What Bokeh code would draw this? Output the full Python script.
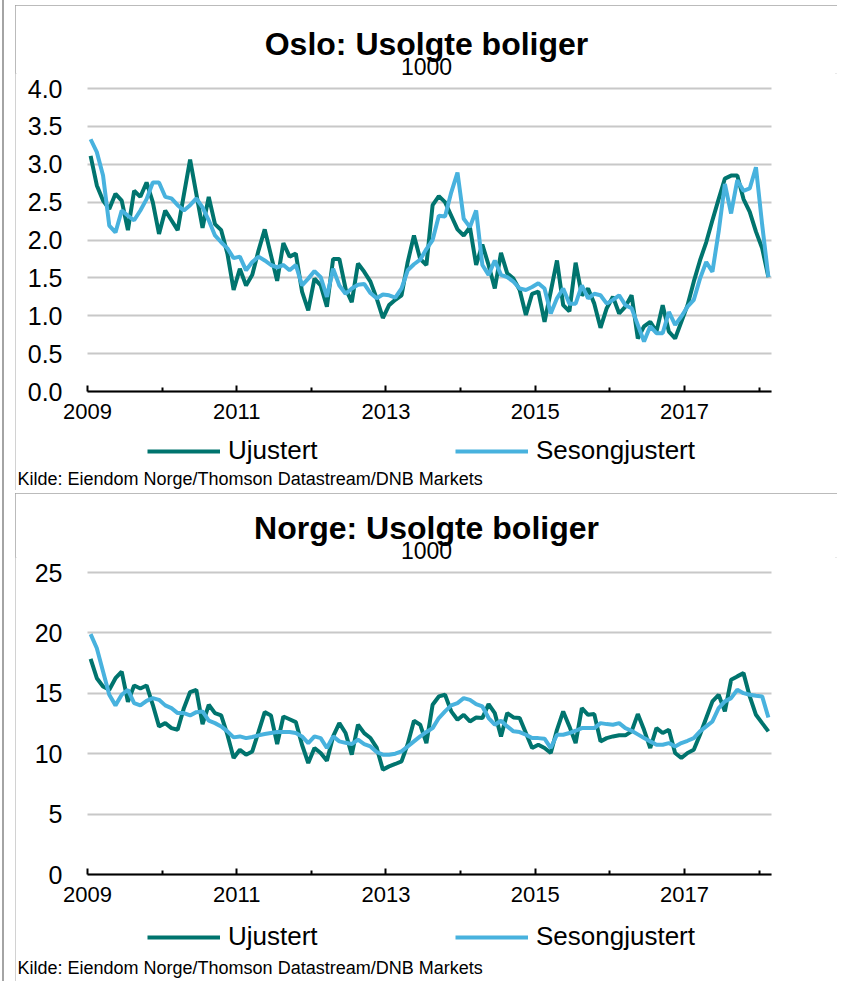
import pandas as pd
from bokeh.plotting import figure
from bokeh.models import (Range1d, FixedTicker, Legend, LegendItem, Title, Label, Grid,
                          PrintfTickFormatter, InlineStyleSheet)
from bokeh.layouts import column
from bokeh.embed import file_html
from bokeh.resources import INLINE

# ---------------- data ----------------
months = pd.date_range("2009-01-01", periods=110, freq="MS")
x_years = [d.year + (d.month - 0.5) / 12 for d in months]

oslo_ujustert = [
    3.11, 2.72, 2.52, 2.41, 2.61, 2.52, 2.13, 2.65, 2.57, 2.76,
    2.50, 2.08, 2.39, 2.26, 2.13, 2.60, 3.06, 2.61, 2.16, 2.57,
    2.21, 2.13, 1.82, 1.34, 1.62, 1.40, 1.54, 1.86, 2.14, 1.80,
    1.46, 1.96, 1.78, 1.82, 1.32, 1.07, 1.49, 1.40, 1.12, 1.75,
    1.75, 1.36, 1.18, 1.69, 1.58, 1.45, 1.23, 0.97, 1.14, 1.21,
    1.27, 1.71, 2.06, 1.75, 1.67, 2.46, 2.58, 2.50, 2.32, 2.14,
    2.06, 2.17, 1.67, 1.94, 1.67, 1.36, 1.83, 1.56, 1.49, 1.34,
    1.01, 1.29, 1.32, 0.92, 1.32, 1.73, 1.14, 1.06, 1.70, 1.27,
    1.36, 1.16, 0.84, 1.10, 1.25, 1.03, 1.12, 1.27, 0.70, 0.86,
    0.92, 0.79, 1.14, 0.79, 0.70, 0.92, 1.14, 1.45, 1.73, 1.97,
    2.26, 2.54, 2.81, 2.85, 2.85, 2.54, 2.37, 2.11, 1.89, 1.51,
]
oslo_sesong = [
    3.33, 3.16, 2.85, 2.19, 2.10, 2.39, 2.32, 2.26, 2.39, 2.54,
    2.76, 2.76, 2.57, 2.55, 2.46, 2.39, 2.46, 2.55, 2.43, 2.26,
    2.06, 1.97, 1.89, 1.76, 1.78, 1.60, 1.71, 1.78, 1.73, 1.67,
    1.64, 1.67, 1.60, 1.67, 1.40, 1.49, 1.59, 1.51, 1.25, 1.62,
    1.40, 1.29, 1.36, 1.41, 1.42, 1.30, 1.23, 1.28, 1.27, 1.24,
    1.36, 1.60, 1.68, 1.74, 1.88, 2.00, 2.32, 2.31, 2.63, 2.89,
    2.28, 2.17, 2.39, 1.67, 1.54, 1.73, 1.54, 1.51, 1.45, 1.36,
    1.34, 1.38, 1.43, 1.36, 1.03, 1.23, 1.36, 1.16, 1.16, 1.40,
    1.23, 1.29, 1.27, 1.16, 1.21, 1.27, 1.14, 1.10, 0.88, 0.66,
    0.86, 0.77, 0.77, 1.05, 0.88, 0.99, 1.12, 1.21, 1.49, 1.71,
    1.58, 2.11, 2.74, 2.35, 2.79, 2.65, 2.68, 2.96, 2.20, 1.51,
]
norge_ujustert = [
    17.85, 16.25, 15.56, 15.29, 16.25, 16.80, 14.30, 15.65, 15.40, 15.65,
    14.05, 12.26, 12.53, 12.12, 11.98, 13.77, 15.10, 15.29, 12.45, 14.05,
    13.36, 13.17, 11.57, 9.64, 10.33, 9.92, 10.19, 11.80, 13.44, 13.17,
    10.80, 13.08, 12.85, 12.62, 10.74, 9.23, 10.47, 10.06, 9.42, 11.43,
    12.53, 11.71, 9.92, 12.40, 11.70, 11.30, 10.50, 8.68, 8.95, 9.15,
    9.37, 10.80, 12.73, 12.40, 10.88, 14.05, 14.74, 14.88, 13.50, 12.81,
    13.22, 12.67, 13.00, 12.95, 14.10, 13.36, 11.43, 13.36, 13.00, 12.95,
    11.71, 10.47, 10.74, 10.47, 10.06, 11.98, 13.50, 12.26, 10.88, 13.77,
    13.22, 13.28, 11.02, 11.29, 11.43, 11.52, 11.52, 11.85, 13.28, 11.98,
    10.47, 12.12, 11.71, 11.98, 10.06, 9.64, 10.06, 10.33, 11.57, 12.95,
    14.33, 14.88, 13.50, 16.12, 16.40, 16.67, 14.74, 13.22, 12.53, 11.85,
]
norge_sesong = [
    19.90, 18.73, 16.80, 14.88, 14.00, 14.88, 15.29, 14.19, 14.00, 14.38,
    14.60, 14.46, 14.00, 13.77, 13.36, 13.36, 13.17, 13.44, 13.50, 12.73,
    12.53, 12.26, 11.85, 11.35, 11.43, 11.29, 11.38, 11.52, 11.63, 11.71,
    11.79, 11.79, 11.79, 11.71, 11.43, 10.88, 11.43, 11.29, 10.47, 11.43,
    11.02, 10.90, 10.80, 11.16, 10.80, 10.60, 10.14, 9.92, 9.92, 10.00,
    10.19, 10.60, 11.02, 11.43, 11.80, 12.12, 12.95, 13.50, 14.00, 14.19,
    14.60, 14.46, 14.10, 13.91, 12.95, 12.40, 12.73, 12.26, 11.85, 11.79,
    11.57, 11.29, 11.29, 11.24, 10.47, 11.57, 11.57, 11.71, 11.90, 12.12,
    12.12, 12.12, 12.53, 12.45, 12.40, 12.53, 12.12, 11.90, 11.60, 11.30,
    11.02, 10.74, 10.74, 10.88, 10.60, 10.88, 11.07, 11.29, 11.85, 12.26,
    12.67, 13.77, 14.33, 14.60, 15.29, 15.01, 14.88, 14.80, 14.74, 13.00,
]

year_ticks = [2009, 2011, 2013, 2015, 2017]
year_minor = [2010, 2012, 2014, 2016, 2018]
oslo_yticks = [0, 0.5, 1, 1.5, 2, 2.5, 3, 3.5, 4]
norge_yticks = [0, 5, 10, 15, 20, 25]

series_names = ["Ujustert", "Sesongjustert"]
colors = ["#00746E", "#48B2DE"]
unit_text = "1000"
source_text = "Kilde: Eiendom Norge/Thomson Datastream/DNB Markets"

FONT = "Liberation Sans"
border_css = InlineStyleSheet(css=":host { outline: 2px solid #a4a4a4; outline-offset: -2px; }")
page_css = InlineStyleSheet(css=":host { background: linear-gradient(to right, transparent 2px, "
                                "#a4a4a4 2px, #a4a4a4 4px, transparent 4px); }")

# ---------------- layout constants (pixels) ----------------
W = 822
PLOT_LEFT, PLOT_W = 72, 684
TOP_PAD = 15
X0 = 2009
X1 = 2009 + 110 / 12
PX_PER_YEAR = PLOT_W / (X1 - X0)


def panel(title, ujust, seson, yticks, yfmt, height, top, data_px, leg_y, src_y):
    ymax = yticks[-1]
    frame_h = height - top
    ppu = data_px / ymax
    y_end = ymax + TOP_PAD / ppu
    y_start = -(frame_h - data_px - TOP_PAD) / ppu
    x_start = X0 - PLOT_LEFT / PX_PER_YEAR
    x_end = X0 + (W - PLOT_LEFT) / PX_PER_YEAR
    centre_offset = (PLOT_LEFT + PLOT_W / 2) - W / 2

    p = figure(width=W, height=height, output_backend="svg", toolbar_location=None,
               x_range=Range1d(x_start, x_end), y_range=Range1d(y_start, y_end),
               min_border_left=0, min_border_right=0,
               min_border_top=top, min_border_bottom=0,
               background_fill_color="white", border_fill_color="white")
    p.outline_line_color = None
    p.stylesheets = [border_css]

    # titles (p.title is the outer one)
    p.title.text = title
    p.title.align = "center"
    p.title.offset = centre_offset
    p.title.text_font = FONT
    p.title.text_font_size = "32px"
    p.title.text_font_style = "bold"
    p.title.text_color = "black"
    p.title.standoff = -9
    p.add_layout(Title(text=unit_text, align="center", text_font=FONT,
                       offset=centre_offset,
                       text_font_size="23px", text_font_style="normal",
                       text_color="black", standoff=-3), "above")

    r1 = p.line(x_years, ujust, line_color=colors[0], line_width=4)
    r2 = p.line(x_years, seson, line_color=colors[1], line_width=4)

    # x axis (sits at y = 0 inside the frame)
    xa = p.xaxis[0]
    xa.fixed_location = 0
    xa.bounds = (X0, X1)
    xa.ticker = FixedTicker(ticks=year_ticks, minor_ticks=year_minor)
    xa.axis_line_color = "black"
    xa.axis_line_width = 2
    xa.major_tick_line_color = "black"
    xa.major_tick_line_width = 2
    xa.major_tick_in = 6
    xa.major_tick_out = 0
    xa.minor_tick_line_color = "black"
    xa.minor_tick_line_width = 2
    xa.minor_tick_in = 4
    xa.minor_tick_out = 0
    xa.major_label_text_font = FONT
    xa.major_label_text_font_size = "22px"
    xa.major_label_text_color = "black"
    xa.major_label_standoff = 12

    # y axis (sits at x = 2009 inside the frame)
    ya = p.yaxis[0]
    ya.fixed_location = X0
    ya.bounds = (0, ymax)
    ya.ticker = FixedTicker(ticks=yticks)
    ya.formatter = PrintfTickFormatter(format=yfmt)
    ya.axis_line_color = None
    ya.major_tick_line_color = None
    ya.minor_tick_line_color = None
    ya.major_tick_out = 0
    ya.major_tick_in = 0
    ya.minor_tick_out = 0
    ya.minor_tick_in = 0
    ya.major_label_text_font = FONT
    ya.major_label_text_font_size = "25px"
    ya.major_label_text_color = "black"
    ya.major_label_standoff = 25

    p.xgrid.grid_line_color = None
    p.ygrid.grid_line_color = "#c8c8c8"
    p.ygrid.grid_line_width = 2
    if "cross_bounds" in Grid.properties():
        p.ygrid.cross_bounds = (X0, X1)
    else:
        p.ygrid.grid_line_color = None
        p.segment(x0=[X0] * len(yticks), x1=[X1] * len(yticks), y0=yticks, y1=yticks,
                  line_color="#c8c8c8", line_width=2, level="underlay")

    # legends (screen px relative to frame bottom-left = canvas bottom-left)
    for r, name, lx in ((r1, series_names[0], 132), (r2, series_names[1], 440)):
        lg = Legend(items=[LegendItem(label=name, renderers=[r])],
                    location=(lx, leg_y), orientation="horizontal",
                    glyph_width=73, glyph_height=28, label_standoff=8,
                    label_text_font=FONT, label_text_font_size="26px",
                    label_text_color="black",
                    border_line_color=None, background_fill_alpha=0,
                    padding=0, margin=0)
        p.add_layout(lg, "center")

    p.add_layout(Label(x=2, y=src_y, x_units="screen", y_units="screen",
                       text=source_text, text_font=FONT, text_font_size="18px",
                       text_color="black", text_baseline="middle"))
    return p


p1 = panel("Oslo: Usolgte boliger", oslo_ujustert, oslo_sesong,
           oslo_yticks, "%.1f", 485, 68, 303, 24, 12)
p2 = panel("Norge: Usolgte boliger", norge_ujustert, norge_sesong,
           norge_yticks, "%d", 488, 64, 302, 29, 14)
p1.margin = (5, 0, 0, 15)
p2.margin = (3, 0, 0, 15)

layout = column(p1, p2, spacing=0)
layout.stylesheets = [page_css]
open("out.html", "w").write(file_html(layout, INLINE))
